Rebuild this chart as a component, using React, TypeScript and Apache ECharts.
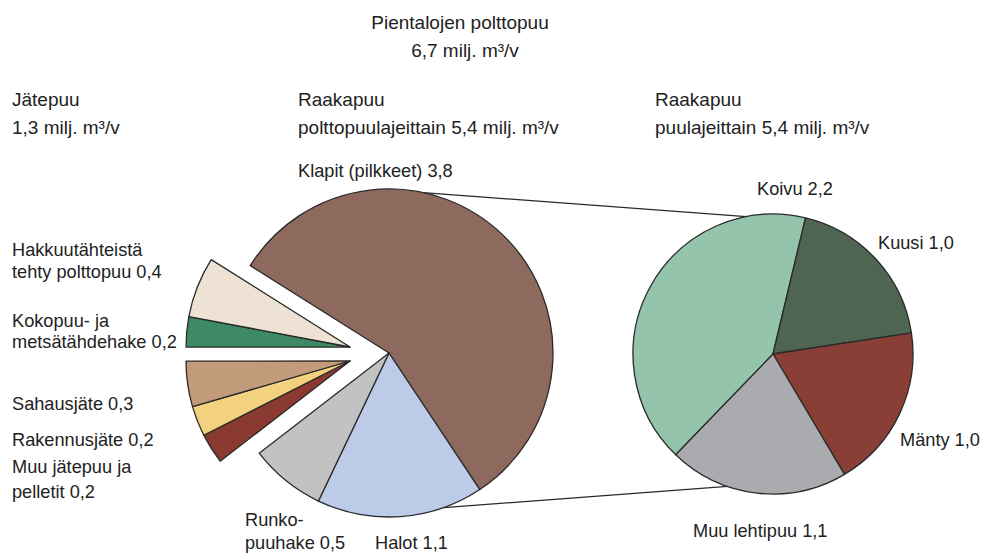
import React, { useEffect, useRef } from "react";
import * as echarts from "echarts";

// ---- Data ----
const mainCategories = [
  "Klapit (pilkkeet)",
  "Halot",
  "Runko-\npuuhake",
  "Muu jätepuu ja\npelletit",
  "Rakennusjäte",
  "Sahausjäte",
  "Kokopuu- ja\nmetsätähdehake",
  "Hakkuutähteistä\ntehty polttopuu",
];
const mainValues = [3.8, 1.1, 0.5, 0.2, 0.2, 0.3, 0.2, 0.4];
// which piece of the main pie each slice belongs to
const mainGroups = ["raw", "raw", "raw", "wasteLow", "wasteLow", "wasteLow", "wasteUp", "wasteUp"];

const speciesCategories = ["Koivu", "Kuusi", "Mänty", "Muu lehtipuu"];
const speciesValues = [2.2, 1.0, 1.0, 1.1];

const titleTotal = "Pientalojen polttopuu";
const wasteTitle = "Jätepuu";
const rawTitle = "Raakapuu";
const rawByTypeLabel = "polttopuulajeittain";
const rawBySpeciesLabel = "puulajeittain";
const unit = "milj. m³/v";

// ---- Styles ----
const mainColors = ["#8d6a5d", "#bccbe8", "#c2c2c2", "#8b3a31", "#f2d27e", "#c29b7a", "#3f8a66", "#eee2d4"];
const speciesColors = ["#94c4ab", "#4e6651", "#893f36", "#a9abae"];
const BORDER = "#2a2a2a";
const TEXT = "#222";
const FONT = "'Liberation Sans', Arial, Helvetica, sans-serif";
const FS_HEAD = 19;
const FS_LABEL = 18.2;

const MAIN_C = [389, 353];
const MAIN_R = 164;
const UP_C = [350, 347];
const LOW_C = [350, 361];
const MAIN_START = 147.8;
const RIGHT_C = [773, 354];
const RIGHT_R = 140;
const RIGHT_START = 226;

const fmt = (v: number) => v.toFixed(1).replace(".", ",");
const sum = (a: number[]) => a.reduce((s, v) => s + v, 0);

function pieSeries(
  id: string,
  center: number[],
  radius: number,
  startAngle: number,
  names: string[],
  values: number[],
  colors: string[],
  visible: boolean[]
) {
  return {
    type: "pie",
    id,
    center,
    radius,
    startAngle,
    clockwise: true,
    silent: true,
    avoidLabelOverlap: false,
    label: { show: false },
    labelLine: { show: false },
    emphasis: { disabled: true },
    data: names.map((n, i) => ({
      name: n,
      value: values[i],
      itemStyle: visible[i]
        ? { color: colors[i], borderColor: BORDER, borderWidth: 1.3 }
        : { color: "rgba(0,0,0,0)", borderWidth: 0 },
    })),
  };
}

function text(x: number, y: number, t: string, fs: number, align = "left", lineHeight = 23) {
  return {
    type: "text",
    x,
    y: y - lineHeight / 2,
    silent: true,
    style: {
      text: t,
      fill: TEXT,
      fontSize: fs,
      fontFamily: FONT,
      lineHeight,
      align,
      verticalAlign: "top",
    },
  };
}

function onCircle(c: number[], r: number, deg: number) {
  const a = (deg * Math.PI) / 180;
  return [c[0] + r * Math.cos(a), c[1] - r * Math.sin(a)];
}

export default function App() {
  const ref = useRef<HTMLDivElement>(null);

  useEffect(() => {
    if (!ref.current) return;
    const chart = echarts.init(ref.current, undefined, { renderer: "svg" });

    const rawSum = sum(mainValues.filter((_, i) => mainGroups[i] === "raw"));
    const wasteSum = sum(mainValues.filter((_, i) => mainGroups[i] !== "raw"));
    const total = sum(mainValues);

    const label = (i: number) => `${mainCategories[i]} ${fmt(mainValues[i])}`;
    const sLabel = (i: number) => `${speciesCategories[i]} ${fmt(speciesValues[i])}`;

    const p1 = onCircle(MAIN_C, MAIN_R, 78);
    const p2 = onCircle(RIGHT_C, RIGHT_R, 101);
    const p3 = onCircle(MAIN_C, MAIN_R, -70.5);
    const p4 = onCircle(RIGHT_C, RIGHT_R, -109);

    chart.setOption({
      animation: false,
      backgroundColor: "#ffffff",
      series: [
        pieSeries("main", MAIN_C, MAIN_R, MAIN_START, mainCategories, mainValues, mainColors,
          mainGroups.map((g) => g === "raw")),
        pieSeries("wasteUp", UP_C, MAIN_R, MAIN_START, mainCategories, mainValues, mainColors,
          mainGroups.map((g) => g === "wasteUp")),
        pieSeries("wasteLow", LOW_C, MAIN_R, MAIN_START, mainCategories, mainValues, mainColors,
          mainGroups.map((g) => g === "wasteLow")),
        pieSeries("species", RIGHT_C, RIGHT_R, RIGHT_START, speciesCategories, speciesValues, speciesColors,
          speciesValues.map(() => true)),
      ],
      graphic: [
        { type: "line", silent: true, shape: { x1: p1[0], y1: p1[1], x2: p2[0], y2: p2[1] }, style: { stroke: BORDER, lineWidth: 1.3 } },
        { type: "line", silent: true, shape: { x1: p3[0], y1: p3[1], x2: p4[0], y2: p4[1] }, style: { stroke: BORDER, lineWidth: 1.3 } },
        text(460, 22, titleTotal, FS_HEAD, "center"),
        text(465, 50, `${fmt(total)} ${unit}`, FS_HEAD, "center"),
        text(12, 99, wasteTitle, FS_HEAD),
        text(12, 127, `${fmt(wasteSum)} ${unit}`, FS_HEAD),
        text(298, 99, rawTitle, FS_HEAD),
        text(298, 127, `${rawByTypeLabel} ${fmt(rawSum)} ${unit}`, FS_HEAD),
        text(655, 99, rawTitle, FS_HEAD),
        text(655, 127, `${rawBySpeciesLabel} ${fmt(rawSum)} ${unit}`, FS_HEAD),
        text(298, 171, label(0), FS_LABEL),
        text(375, 543, label(1), FS_LABEL),
        text(245, 520, label(2), FS_LABEL, "left", 23),
        text(12, 467, label(3), FS_LABEL, "left", 25),
        text(12, 440, label(4), FS_LABEL),
        text(12, 404, label(5), FS_LABEL),
        text(12, 321, label(6), FS_LABEL, "left", 21),
        text(12, 250, label(7), FS_LABEL, "left", 22),
        text(757, 189, sLabel(0), FS_LABEL),
        text(878, 243, sLabel(1), FS_LABEL),
        text(900, 440, sLabel(2), FS_LABEL),
        text(693, 531, sLabel(3), FS_LABEL),
      ],
    });

    return () => chart.dispose();
  }, []);

  return (
    <div
      ref={ref}
      style={{ position: "fixed", left: 0, top: 0, width: 986, height: 556, background: "#fff" }}
    />
  );
}
